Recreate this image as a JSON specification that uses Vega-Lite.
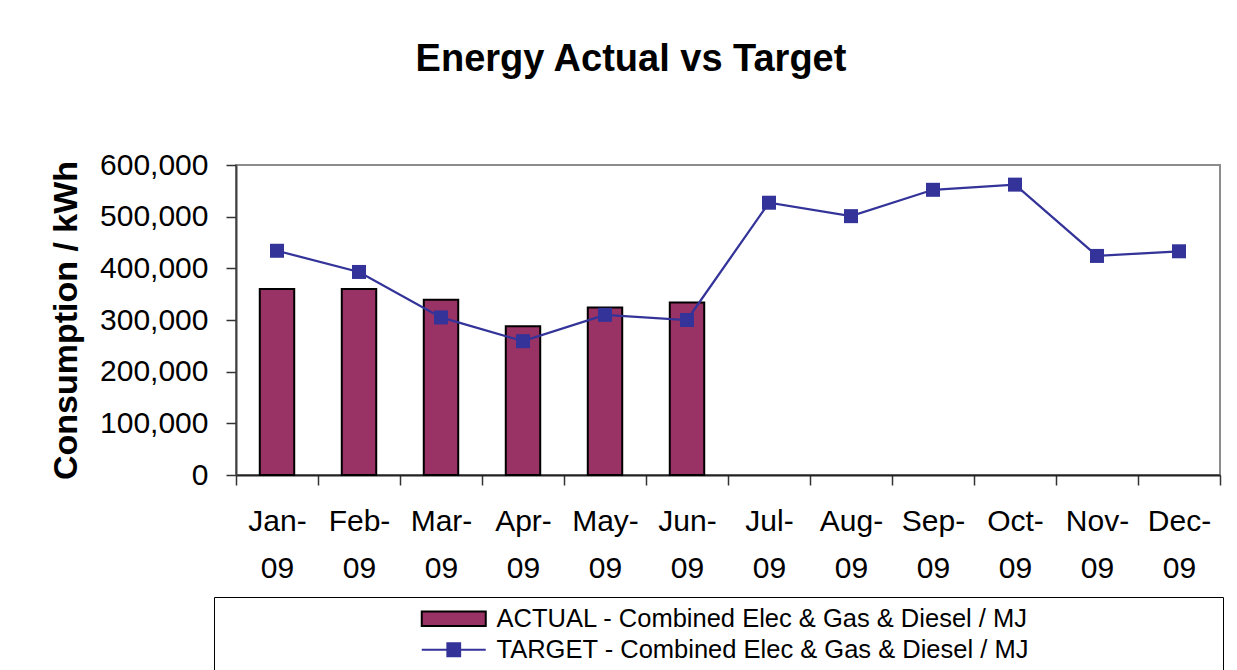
{
  "$schema": "https://vega.github.io/schema/vega-lite/v6.json",
  "autosize": {"type": "none"},
  "width": 984,
  "height": 310,
  "padding": {"left": 236, "top": 165, "right": 17, "bottom": 195},
  "background": "white",
  "config": {
    "font": "Liberation Sans",
    "view": {"stroke": "#8c8c8c", "strokeWidth": 2}
  },
  "title": {
    "text": "Energy Actual vs Target",
    "font": "Liberation Sans",
    "fontSize": 38,
    "fontWeight": "bold",
    "color": "black",
    "anchor": "middle",
    "dx": -97,
    "offset": 71
  },
  "data": {
    "values": [
      {"month": "Jan-09", "actual": 360000, "target": 434000},
      {"month": "Feb-09", "actual": 360000, "target": 393000},
      {"month": "Mar-09", "actual": 339000, "target": 305000},
      {"month": "Apr-09", "actual": 288000, "target": 259000},
      {"month": "May-09", "actual": 324000, "target": 310000},
      {"month": "Jun-09", "actual": 334000, "target": 300000},
      {"month": "Jul-09", "actual": null, "target": 527000},
      {"month": "Aug-09", "actual": null, "target": 501000},
      {"month": "Sep-09", "actual": null, "target": 552000},
      {"month": "Oct-09", "actual": null, "target": 562000},
      {"month": "Nov-09", "actual": null, "target": 424000},
      {"month": "Dec-09", "actual": null, "target": 433000}
    ]
  },
  "encoding": {
    "x": {
      "field": "month",
      "type": "ordinal",
      "sort": null,
      "scale": {"paddingInner": 0, "paddingOuter": 0},
      "axis": {
        "title": null,
        "labelAngle": 0,
        "labelFont": "Liberation Sans",
        "labelFontSize": 30,
        "labelColor": "black",
        "labelExpr": "[slice(datum.label, 0, 4), slice(datum.label, 4)]",
        "labelLineHeight": 47,
        "labelBaseline": "top",
        "labelPadding": 21,
        "tickBand": "extent",
        "tickSize": 10,
        "tickColor": "#333333",
        "tickWidth": 1.5,
        "domainColor": "#222222",
        "domainWidth": 2
      }
    }
  },
  "layer": [
    {
      "mark": {
        "type": "bar",
        "stroke": "black",
        "strokeWidth": 2,
        "width": {"band": 0.42}
      },
      "encoding": {
        "y": {
          "field": "actual",
          "type": "quantitative",
          "scale": {"domain": [0, 600000], "nice": false},
          "axis": {
            "title": "Consumption / kWh",
            "titleFont": "Liberation Sans",
            "titleFontSize": 34,
            "titleFontWeight": "bold",
            "titleColor": "black",
            "titlePadding": 16,
            "labelFont": "Liberation Sans",
            "labelFontSize": 30,
            "labelColor": "black",
            "labelPadding": 18,
            "values": [0, 100000, 200000, 300000, 400000, 500000, 600000],
            "format": ",d",
            "grid": false,
            "tickSize": 10,
            "tickColor": "#333333",
            "tickWidth": 1.5,
            "domainColor": "#404040",
            "domainWidth": 2
          }
        },
        "fill": {
          "datum": "ACTUAL - Combined Elec & Gas & Diesel / MJ",
          "scale": {
            "domain": ["ACTUAL - Combined Elec & Gas & Diesel / MJ", "TARGET - Combined Elec & Gas & Diesel / MJ"],
            "range": ["#993366", "#333399"]
          },
          "legend": {
            "orient": "none",
            "legendX": -22,
            "legendY": 432,
            "direction": "vertical",
            "title": "\u200b\u00a0\u00a0\u00a0\u00a0\u00a0\u00a0\u00a0\u00a0\u00a0\u00a0\u00a0\u00a0\u00a0\u00a0\u00a0\u00a0\u00a0\u00a0\u00a0\u00a0\u00a0\u00a0\u00a0\u00a0\u00a0\u00a0\u00a0\u200b",
            "titleOrient": "left",
            "titleFontSize": 26,
            "titleFontWeight": "normal",
            "titlePadding": 4,
            "titleLimit": 2000,
            "labelFont": "Liberation Sans",
            "labelFontSize": 25.5,
            "labelColor": "black",
            "labelLimit": 3000,
            "labelOffset": 48,
            "labelExpr": "datum.label + '\u00a0\u00a0\u00a0\u00a0\u00a0\u00a0\u00a0\u00a0\u00a0\u00a0\u00a0\u00a0\u00a0\u00a0\u00a0\u00a0\u00a0\u00a0\u00a0\u00a0\u00a0\u00a0\u00a0\u00a0\u00a0\u00a0\u200b'",
            "strokeColor": "black",
            "fillColor": "white",
            "padding": 9,
            "rowPadding": 4,
            "symbolSize": 256,
            "symbolStrokeWidth": 2,
            "symbolOpacity": 1
          }
        }
      }
    },
    {
      "mark": {
        "type": "line",
        "color": "#333399",
        "strokeWidth": 2.25,
        "point": {"shape": "square", "size": 196, "filled": true, "color": "#333399"}
      },
      "encoding": {
        "y": {"field": "target", "type": "quantitative"}
      }
    },
    {
      "transform": [{"filter": "false"}],
      "mark": {"type": "point", "opacity": 1, "strokeWidth": 2},
      "encoding": {
        "fill": {"datum": "TARGET - Combined Elec & Gas & Diesel / MJ"},
        "stroke": {
          "datum": "TARGET - Combined Elec & Gas & Diesel / MJ",
          "scale": {
            "domain": ["ACTUAL - Combined Elec & Gas & Diesel / MJ", "TARGET - Combined Elec & Gas & Diesel / MJ"],
            "range": ["black", "#333399"]
          },
          "legend": {"symbolOpacity": 1}
        },
        "shape": {
          "datum": "TARGET - Combined Elec & Gas & Diesel / MJ",
          "scale": {
            "domain": ["ACTUAL - Combined Elec & Gas & Diesel / MJ", "TARGET - Combined Elec & Gas & Diesel / MJ"],
            "range": ["M-1.75,-0.92H6.25V0.92H-1.75Z", "M-1.75,0H6.25M1.45,-0.8H3.05V0.8H1.45Z"]
          },
          "legend": {"symbolOpacity": 1}
        }
      }
    }
  ]
}
